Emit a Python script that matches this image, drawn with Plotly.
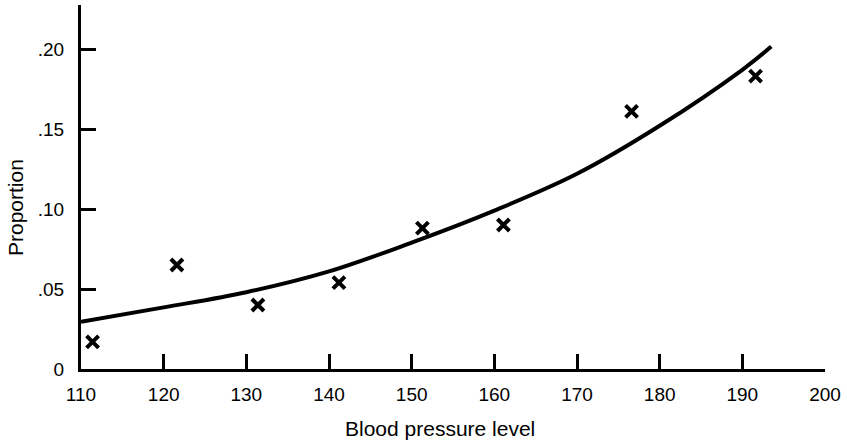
import plotly.graph_objects as go

# Observed proportions
bp_obs = [111.4, 121.6, 131.4, 141.2, 151.3, 161.1, 176.6, 191.6]
prop_obs = [0.017, 0.065, 0.040, 0.054, 0.088, 0.090, 0.161, 0.183]

# Fitted curve
bp_fit = [110, 120, 130, 140, 150, 160, 170, 180, 190, 193.5]
prop_fit = [0.0295, 0.0385, 0.048, 0.061, 0.079, 0.099, 0.122, 0.152, 0.187, 0.2015]

x_ticks = [110, 120, 130, 140, 150, 160, 170, 180, 190, 200]
y_ticks = [0, 0.05, 0.10, 0.15, 0.20]
y_labels = ["0", ".05", ".10", ".15", ".20"]

font = dict(family="Liberation Sans, Arial, sans-serif", size=19, color="black")
title_font = dict(family="Liberation Sans, Arial, sans-serif", size=21, color="black")

fig = go.Figure()
fig.add_trace(go.Scatter(x=bp_fit, y=prop_fit, mode="lines",
                         line=dict(color="black", width=4, shape="spline", smoothing=1.0),
                         hoverinfo="skip", showlegend=False))
fig.add_trace(go.Scatter(x=bp_obs, y=prop_obs, mode="markers",
                         marker=dict(symbol="x-thin", size=12, line=dict(color="black", width=4)),
                         showlegend=False))

fig.update_layout(
    width=847, height=441,
    margin=dict(l=81, r=22, t=5, b=72),
    paper_bgcolor="white", plot_bgcolor="white",
    font=font,
    annotations=[
        dict(text="Blood pressure level", xref="paper", yref="paper", x=(440 - 81) / 744,
             y=-(428 - 369) / 364, xanchor="center", yanchor="middle", showarrow=False,
             font=title_font),
        dict(text="Proportion", xref="paper", yref="paper", x=-(81 - 15) / 744,
             y=(369 - 208) / 364, xanchor="center", yanchor="middle", showarrow=False,
             textangle=-90, font=title_font),
    ],
)
fig.update_xaxes(range=[110, 200], tickvals=x_ticks, ticks="inside", ticklen=15, tickwidth=2.5,
                 tickcolor="black", showline=True, linecolor="black", linewidth=3,
                 showgrid=False, zeroline=False, ticklabelstandoff=6)
fig.update_yaxes(range=[0, 0.2275], tickvals=y_ticks, ticktext=y_labels, ticks="inside", ticklen=15,
                 tickwidth=2.5, tickcolor="black", showline=True, linecolor="black", linewidth=3,
                 showgrid=False, zeroline=False, ticklabelstandoff=10)

fig.write_html("out.html")
